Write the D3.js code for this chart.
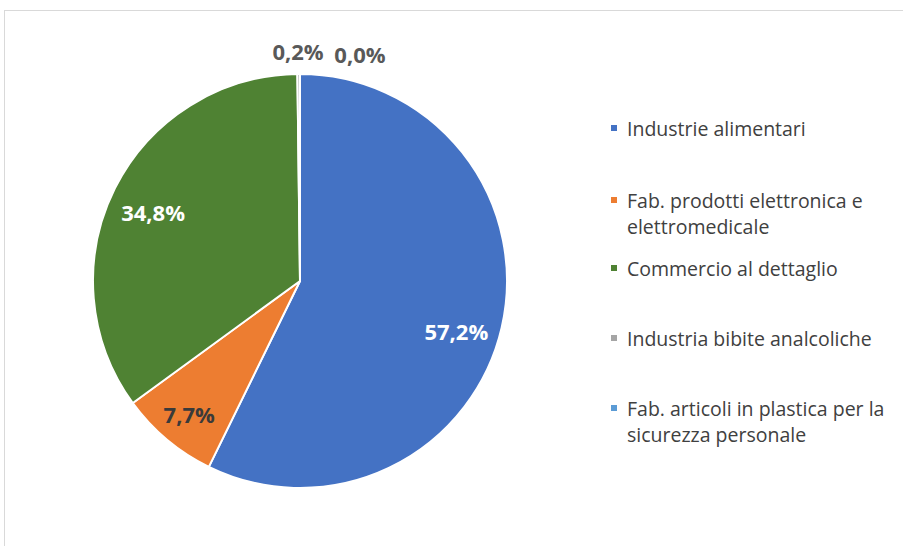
<!DOCTYPE html>
<html>
<head>
<meta charset="utf-8">
<script src="https://cdn.jsdelivr.net/npm/d3@7"></script>
<style>
  html, body { margin: 0; padding: 0; background: #fff; }
  svg { display: block; font-family: "Open Sans", "Noto Sans", sans-serif; }
</style>
</head>
<body>
<svg id="chart" width="903" height="546"></svg>
<script>
// Quota per settore (%)
const categories = [
  "Industrie alimentari",
  "Fab. prodotti elettronica e elettromedicale",
  "Commercio al dettaglio",
  "Industria bibite analcoliche",
  "Fab. articoli in plastica per la sicurezza personale"
];
const values = [57.2, 7.7, 34.8, 0.2, 0.0];
const colors = ["#4472C4", "#ED7D31", "#4F8233", "#A5A5A5", "#5B9BD5"];
const legendLines = [
  ["Industrie alimentari"],
  ["Fab. prodotti elettronica e", "elettromedicale"],
  ["Commercio al dettaglio"],
  ["Industria bibite analcoliche"],
  ["Fab. articoli in plastica per la", "sicurezza personale"]
];

const svg = d3.select("#chart");
const fmt = v => v.toFixed(1).replace(".", ",") + "%";

// chart area frame
svg.append("rect")
  .attr("x", 4.5).attr("y", 10.5)
  .attr("width", 940).attr("height", 560)
  .attr("fill", "#fff").attr("stroke", "#d9d9d9").attr("stroke-width", 1);

const cx = 300, cy = 281, R = 207;
const data = categories.map((c, i) => ({ name: c, value: values[i], color: colors[i] }));

const pie = d3.pie().value(d => d.value).sort(null);
const arcs = pie(data);
const arc = d3.arc().innerRadius(0).outerRadius(R);
const labelArc = d3.arc().innerRadius(R * 0.81).outerRadius(R * 0.81);

const g = svg.append("g").attr("transform", `translate(${cx},${cy})`);

g.selectAll("path.slice")
  .data(arcs)
  .join("path")
  .attr("class", "slice")
  .attr("d", arc)
  .attr("fill", d => d.data.color)
  .attr("stroke", "#fff")
  .attr("stroke-width", 2)
  .attr("stroke-linejoin", "round");

// labels inside the larger slices (small nudges from the centroid)
const insideColor = ["#ffffff", "#3a3a3a", "#ffffff"];
const nudge = [[-7, 12], [-3, 5], [3, 6]];
arcs.forEach((a, i) => {
  if (a.data.value >= 1) {
    const [x, y] = labelArc.centroid(a);
    g.append("text")
      .attr("x", x + nudge[i][0]).attr("y", y + nudge[i][1])
      .attr("text-anchor", "middle")
      .attr("dominant-baseline", "central")
      .attr("font-size", 22)
      .attr("font-weight", 700)
      .attr("fill", insideColor[i])
      .text(fmt(a.data.value));
  }
});

// labels for the tiny slices, set out above the pie
const outerShift = [null, null, null, [-2, -23], [60, -20]];
arcs.forEach((a, i) => {
  if (a.data.value < 1) {
    g.append("text")
      .attr("x", outerShift[i][0])
      .attr("y", -R + outerShift[i][1])
      .attr("text-anchor", "middle")
      .attr("dominant-baseline", "central")
      .attr("font-size", 22)
      .attr("font-weight", 700)
      .attr("fill", "#595959")
      .text(fmt(a.data.value));
  }
});

// legend
const legendY = [128, 200, 268, 338, 408];
const lg = svg.append("g");
legendLines.forEach((lines, i) => {
  lg.append("rect")
    .attr("x", 611).attr("y", legendY[i] - 3)
    .attr("width", 6).attr("height", 6)
    .attr("fill", colors[i]);
  lines.forEach((t, j) => {
    lg.append("text")
      .attr("x", 627).attr("y", legendY[i] + j * 26)
      .attr("dominant-baseline", "central")
      .attr("font-size", 19.5)
      .attr("fill", "#404040")
      .text(t);
  });
});
</script>
</body>
</html>
